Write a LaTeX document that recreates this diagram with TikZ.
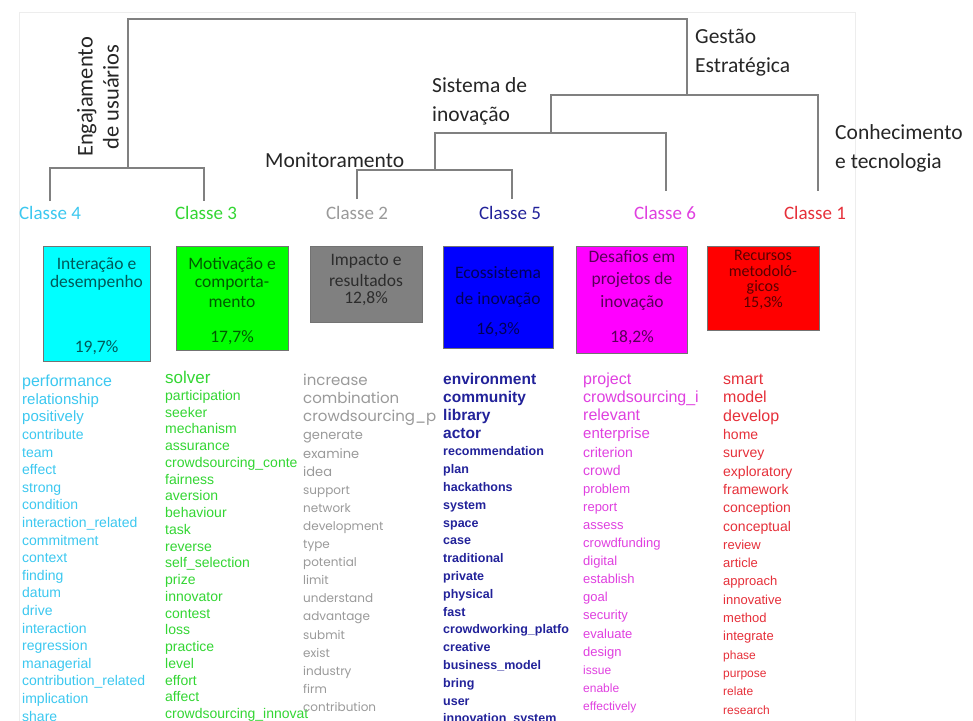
\documentclass[tikz,border=0pt]{standalone}
\usepackage{fontspec}
\setmainfont{Carlito}
\newfontfamily\wordsans{Liberation Sans}
\newfontfamily\wordgeo{Poppins}
\definecolor{treegray}{HTML}{808080}
\definecolor{cfour}{HTML}{3CC8F0}
\definecolor{cthree}{HTML}{33D633}
\definecolor{ctwo}{HTML}{9A9A9A}
\definecolor{cfive}{HTML}{22229A}
\definecolor{csix}{HTML}{E040E0}
\definecolor{cone}{HTML}{E6303A}
\definecolor{bcyan}{HTML}{00FFFF}
\definecolor{bgreen}{HTML}{00FF00}
\definecolor{bgray}{HTML}{808080}
\definecolor{bblue}{HTML}{0000FF}
\definecolor{bmagenta}{HTML}{FF00FF}
\definecolor{bred}{HTML}{FF0000}
\tikzset{
  treeline/.style={draw=treegray, line width=1.6pt},
  branchlabel/.style={font=\fontsize{21.5}{29}\selectfont, text=black!85, align=left, inner sep=0},
  classlabel/.style={font=\fontsize{19}{22}\selectfont, inner sep=0},
  classbox/.style={draw=black!55, line width=0.8pt, inner sep=0},
  boxtext/.style={font=\fontsize{17.5}{20}\selectfont, text=black, text opacity=0.65, inner sep=0},
  word/.style={anchor=west, inner sep=0, text height=0.72em, text depth=0.2em},
}
\begin{document}
\begin{tikzpicture}[x=1pt,y=-1pt]
\useasboundingbox (0,0) rectangle (973,720);
\clip (0,0) rectangle (973,720);
\fill[white] (0,0) rectangle (973,720);
\draw[black!7, line width=1pt] (19,12) rectangle (855,740);

% ---------- dendrogram ----------
\coordinate (leaf4) at (50,201);
\coordinate (leaf3) at (204,201);
\coordinate (leaf2) at (357,199);
\coordinate (leaf5) at (512,199);
\coordinate (leaf6) at (666,191);
\coordinate (leaf1) at (818,191);
\coordinate (j43) at (128,168);
\coordinate (j25) at (435,170);
\coordinate (j256) at (551,133);
\coordinate (j2561) at (687,95);
\coordinate (rootL) at (128,19);
\coordinate (rootR) at (687,19);

\draw[treeline] (leaf4) |- (j43) -| (leaf3);
\draw[treeline] (j43) -- (rootL) -- (rootR) -- (j2561);
\draw[treeline] (leaf2) |- (j25) -| (leaf5);
\draw[treeline] (j25) |- (j256) -| (leaf6);
\draw[treeline] (j256) |- (j2561) -| (leaf1);

\node[branchlabel, rotate=90, align=center, font=\fontsize{22.5}{26}\selectfont] (lbleng) at (98,97) {Engajamento\\de usuários};
\node[branchlabel, anchor=west] (lblgest) at (695,53) {Gestão\\Estratégica};
\node[branchlabel, anchor=west] (lblsis) at (432,101) {Sistema de\\inovação};
\node[branchlabel, anchor=west] (lblmon) at (265,160) {Monitoramento};
\node[branchlabel, anchor=west] (lblcon) at (835,148) {Conhecimento\\e tecnologia};

% ---------- class labels ----------
\node[classlabel, text=cfour] (c4) at (50,213) {Classe 4};
\node[classlabel, text=cthree] (c3) at (206,213) {Classe 3};
\node[classlabel, text=ctwo] (c2) at (357,213) {Classe 2};
\node[classlabel, text=cfive] (c5) at (510,213) {Classe 5};
\node[classlabel, text=csix] (c6) at (665,213) {Classe 6};
\node[classlabel, text=cone] (c1) at (815,213) {Classe 1};

% ---------- class boxes ----------
\node[classbox, fill=bcyan, minimum width=107, minimum height=115] (b4) at (96.5,303.5) {};
\node[classbox, fill=bgreen, minimum width=112, minimum height=104] (b3) at (232,298) {};
\node[classbox, fill=bgray, minimum width=112, minimum height=76] (b2) at (366,284) {};
\node[classbox, fill=bblue, minimum width=110, minimum height=102] (b5) at (498,297) {};
\node[classbox, fill=bmagenta, minimum width=111, minimum height=107] (b6) at (632,299.5) {};
\node[classbox, fill=bred, minimum width=112, minimum height=84] (b1) at (763,288) {};

\node[boxtext] (t4a) at (96.5,265) {Interação e};
\node[boxtext] (t4b) at (96.5,283) {desempenho};
\node[boxtext] (t4c) at (96.5,348) {19,7\%};

\node[boxtext] (t3a) at (232,265) {Motivação e};
\node[boxtext] (t3b) at (232,283) {comporta-};
\node[boxtext] (t3c) at (232,302) {mento};
\node[boxtext] (t3d) at (232,338) {17,7\%};

\node[boxtext] (t2a) at (366,261) {Impacto e};
\node[boxtext] (t2b) at (366,280) {resultados};
\node[boxtext] (t2c) at (366,299) {12,8\%};

\node[boxtext] (t5a) at (498,273) {Ecossistema};
\node[boxtext] (t5b) at (498,300) {de inovação};
\node[boxtext] (t5c) at (498,330) {16,3\%};

\node[boxtext] (t6a) at (632,257) {Desafios em};
\node[boxtext] (t6b) at (632,280) {projetos de};
\node[boxtext] (t6c) at (632,303) {inovação};
\node[boxtext] (t6d) at (632,338) {18,2\%};

\node[boxtext, font=\fontsize{16}{18}\selectfont] (t1a) at (763,255) {Recursos};
\node[boxtext, font=\fontsize{16}{18}\selectfont] (t1b) at (763,271) {metodoló-};
\node[boxtext, font=\fontsize{16}{18}\selectfont] (t1c) at (763,287) {gicos};
\node[boxtext, font=\fontsize{16}{18}\selectfont] (t1d) at (763,303) {15,3\%};

% ---------- word lists ----------
\foreach \s/\w [count=\i] in {16/performance, 15/relationship, 15/positively, 14/contribute,
  14/team, 14/effect, 14/strong, 14/condition, 14/interaction\_related, 14/commitment,
  14/context, 14/finding, 14/datum, 14/drive, 14/interaction, 14/regression, 14/managerial,
  14/contribution\_related, 14/implication, 14/share}
  \node[word, text=cfour, font={\wordsans\fontsize{\s}{\s}\selectfont}] (wa\i) at (22,{384+(\i-1)*17.6}) {\w};

\foreach \s/\w [count=\i] in {17/solver, 14/participation, 14/seeker, 14/mechanism, 14/assurance,
  14/crowdsourcing\_conte, 14/fairness, 14/aversion, 14/behaviour, 14/task, 14/reverse,
  14/self\_selection, 14/prize, 14/innovator, 14/contest, 14/loss, 14/practice, 14/level,
  14/effort, 14/affect, 14/crowdsourcing\_innovat}
  \node[word, text=cthree, font={\wordsans\fontsize{\s}{\s}\selectfont}] (wb\i) at (165,{381+(\i-1)*16.75}) {\w};

\foreach \s/\w [count=\i] in {15/increase, 15/combination, 15/crowdsourcing\_p, 13/generate,
  13/examine, 13/idea, 12/support, 12/network, 12/development, 12/type, 12/potential, 12/limit,
  12/understand, 12/advantage, 12/submit, 12/exist, 12/industry, 12/firm, 12/contribution}
  \node[word, text=ctwo, font={\wordgeo\fontsize{\s}{\s}\selectfont}] (wc\i) at (303,{383+(\i-1)*18.1}) {\w};

\foreach \s/\w [count=\i] in {15.5/environment, 15.5/community, 15.5/library, 15.5/actor,
  12.5/recommendation, 12.5/plan, 12.5/hackathons, 12.5/system, 12.5/space, 12.5/case,
  12.5/traditional, 12.5/private, 12.5/physical, 12.5/fast, 12.5/crowdworking\_platfo,
  12.5/creative, 12.5/business\_model, 12.5/bring, 12.5/user, 12.5/innovation\_system}
  \node[word, text=cfive, font={\wordsans\bfseries\fontsize{\s}{\s}\selectfont}] (wd\i) at (443,{382+(\i-1)*17.8}) {\w};

\foreach \s/\w [count=\i] in {16/project, 16/crowdsourcing\_i, 16/relevant, 15/enterprise,
  14/criterion, 14/crowd, 13/problem, 13/report, 13/assess, 13/crowdfunding, 13/digital,
  13/establish, 13/goal, 13/security, 13/evaluate, 13/design, 12/issue, 12/enable, 12/effectively}
  \node[word, text=csix, font={\wordsans\fontsize{\s}{\s}\selectfont}] (we\i) at (583,{382+(\i-1)*18.1}) {\w};

\foreach \s/\w [count=\i] in {16/smart, 16/model, 16/develop, 14/home, 14/survey, 14/exploratory,
  14/framework, 14/conception, 14/conceptual, 13/review, 13/article, 13/approach, 13/innovative,
  13/method, 13/integrate, 12/phase, 12/purpose, 12/relate, 12/research}
  \node[word, text=cone, font={\wordsans\fontsize{\s}{\s}\selectfont}] (wf\i) at (723,{382+(\i-1)*18.3}) {\w};
\end{tikzpicture}
\end{document}
